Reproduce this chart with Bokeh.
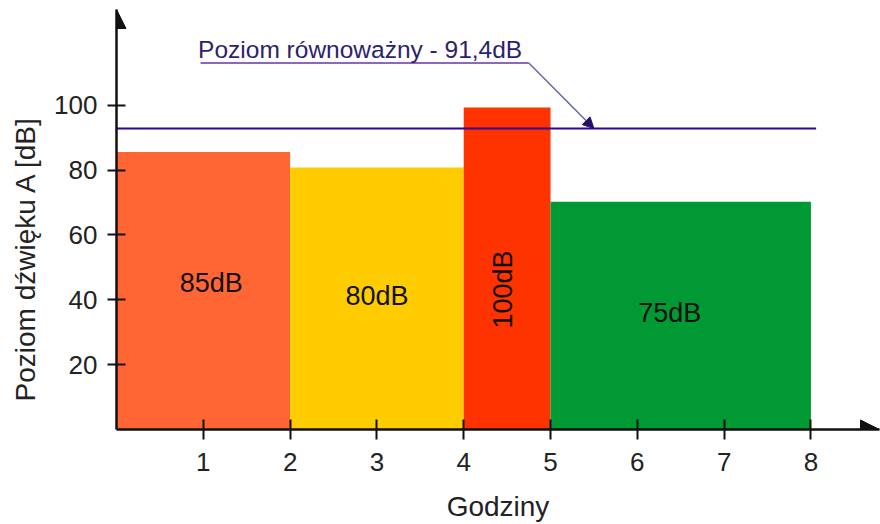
import math
from bokeh.plotting import figure
from bokeh.models import Range1d, FixedTicker, Label, Arrow, NormalHead, ColumnDataSource, Title
from bokeh.core.properties import value
from bokeh.embed import file_html
from bokeh.resources import INLINE

# ---- data ----
hour_start = [0, 2, 4, 5]
hour_end = [2, 4, 5, 8]
levels = [85.6, 80.8, 99.3, 70.2]
level_labels = ["85dB", "80dB", "100dB", "75dB"]
bar_colors = ["#FF6633", "#FFCC00", "#FF3300", "#009933"]
eq_level = 92.8
eq_text = "Poziom równoważny - 91,4dB"
x_ticks = [1, 2, 3, 4, 5, 6, 7, 8]
y_ticks = [20, 40, 60, 80, 100]
x_title = "Godziny"
y_title = "Poziom dźwięku A [dB]"

FONT = "Liberation Sans"
X_END = 8.79
Y_END = 129.5

p = figure(width=880, height=524, output_backend="svg", toolbar_location=None,
           x_range=Range1d(0, X_END), y_range=Range1d(0, Y_END),
           min_border_left=116, min_border_right=1, min_border_top=9, min_border_bottom=94)
p.outline_line_color = None
p.xgrid.visible = False
p.ygrid.visible = False
p.background_fill_color = "white"

for ax in (p.xaxis, p.yaxis):
    ax.axis_line_width = 2.5
    ax.axis_line_color = "#111111"
    ax.major_tick_line_width = 2
    ax.major_tick_line_color = "#111111"
    ax.minor_tick_line_color = None
    ax.major_label_text_font = FONT
    ax.major_label_text_font_size = "26px"
    ax.major_label_text_color = "#222222"
p.xaxis.ticker = FixedTicker(ticks=x_ticks)
p.yaxis.ticker = FixedTicker(ticks=y_ticks)
p.xaxis.major_tick_in = 10
p.xaxis.major_tick_out = 10
p.yaxis.major_tick_in = 9
p.yaxis.major_tick_out = 9
p.xaxis.major_label_standoff = 13
p.yaxis.major_label_standoff = 10

p.xaxis.axis_label = x_title
p.xaxis.axis_label_text_font = FONT
p.xaxis.axis_label_text_font_size = "28px"
p.xaxis.axis_label_text_font_style = "normal"
p.xaxis.axis_label_text_color = "#222222"
p.xaxis.axis_label_standoff = 17

p.add_layout(Title(text=y_title, align="left", offset=28, vertical_align="top",
                   text_font=FONT, text_font_size="28px", text_font_style="normal",
                   text_color="#222222", standoff=17), "left")

# bars
src = ColumnDataSource(dict(left=hour_start, right=hour_end, top=levels, color=bar_colors))
p.quad(left="left", right="right", bottom=0, top="top", fill_color="color", line_color=None, source=src)

# bar labels
angles = [0, 0, math.pi / 2, 0]
xo = [8, 0, -4, -11]
yo = [-8, -2, 21, -3]
lsrc = ColumnDataSource(dict(
    x=[(a + b) / 2 for a, b in zip(hour_start, hour_end)],
    y=[v / 2 for v in levels],
    text=level_labels, angle=angles, xo=xo, yo=yo))
p.text(x="x", y="y", text="text", angle="angle", x_offset="xo", y_offset="yo",
       text_align="center", text_baseline="middle", text_font=value(FONT),
       text_font_size="27px", text_color="#111111", source=lsrc)

# equivalent level line
p.segment(x0=[0], y0=[eq_level], x1=[8.06], y1=[eq_level], line_color="#330099", line_width=2)

# annotation text + underline + leader arrow
p.add_layout(Label(x=0.94, y=117.3, text=eq_text, text_font=FONT, text_font_size="24.5px",
                   text_color="#2e1f6e", text_align="left", text_baseline="middle"))
p.segment(x0=[0.968], y0=[113.0], x1=[4.75], y1=[113.0], line_color="#6633aa", line_width=1.5)
p.add_layout(Arrow(end=NormalHead(size=11, fill_color="#221166", line_color="#221166"),
                   x_start=4.75, y_start=113.0, x_end=5.5, y_end=eq_level,
                   line_color="#6666aa", line_width=1.5))

# axis arrows
p.add_layout(Arrow(end=NormalHead(size=19, fill_color="#111111", line_color="#111111"),
                   x_start=0, y_start=0, x_end=0, y_end=Y_END, line_color=None))
p.add_layout(Arrow(end=NormalHead(size=19, fill_color="#111111", line_color="#111111"),
                   x_start=0, y_start=0, x_end=X_END, y_end=0, line_color=None))

open("out.html", "w").write(file_html(p, INLINE))
